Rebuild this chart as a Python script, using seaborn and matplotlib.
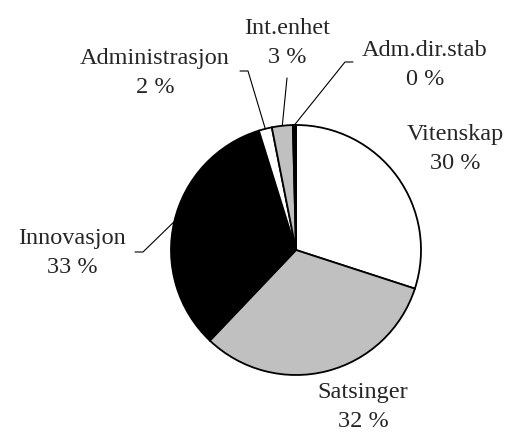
import numpy as np
import matplotlib
matplotlib.use("Agg")
import matplotlib.pyplot as plt
import seaborn as sns

sns.set_style("white")
plt.rcParams['font.family'] = ['Liberation Serif', 'DejaVu Serif']

categories = ["Vitenskap", "Satsinger", "Innovasjon", "Administrasjon", "Int.enhet", "Adm.dir.stab"]
shares = [30.0, 32.1, 33.1, 1.7, 2.7, 0.4]
fills = ["white", "#c0c0c0", "black", "white", "#c0c0c0", "black"]

# pie geometry in pixels (center, radius) -> data units
CX, CY, R = 296, 250, 125
W, H = 510, 436


def px(x, y):
    return (x - CX) / R, (CY - y) / R


# label block centres and leader-line elbows, in pixels
label_pos = {
    "Vitenskap": (455, 149),
    "Satsinger": (363, 407),
    "Innovasjon": (72, 253),
    "Administrasjon": (155, 73),
    "Int.enhet": (287, 43),
    "Adm.dir.stab": (425, 65),
}
leaders = {
    "Innovasjon": [(135, 252), (143, 252)],
    "Administrasjon": [(240, 71), (248, 71)],
    "Int.enhet": [(287, 78)],
    "Adm.dir.stab": [(353, 62), (345, 62)],
}

fig = plt.figure(figsize=(W / 100, H / 100), dpi=100)
ax = fig.add_axes([0, 0, 1, 1])

wedges, _ = ax.pie(shares, colors=fills, startangle=90, counterclock=False,
                   wedgeprops=dict(edgecolor="black", linewidth=1.3))

for w, name, val in zip(wedges, categories, shares):
    lx, ly = px(*label_pos[name])
    ax.text(lx, ly, f"{name}\n{round(val)} %", ha="center", va="center",
            fontsize=17.5, linespacing=1.55, multialignment="center")
    if name in leaders:
        mid = np.deg2rad((w.theta1 + w.theta2) / 2)
        pts = [px(*p) for p in leaders[name]] + [(np.cos(mid), np.sin(mid))]
        xs, ys = zip(*pts)
        ax.plot(xs, ys, color="black", linewidth=0.8)

ax.set_xlim(-CX / R, (W - CX) / R)
ax.set_ylim((CY - H) / R, CY / R)
ax.set_aspect("equal")
ax.axis("off")

fig.savefig("out.png", dpi=100)
